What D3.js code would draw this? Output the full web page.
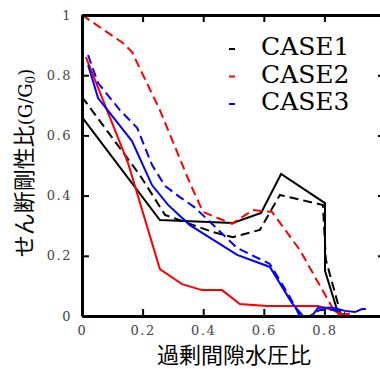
<!DOCTYPE html>
<html><head><meta charset="utf-8">
<script src="https://cdn.jsdelivr.net/npm/d3@7"></script>
<style>body{margin:0;background:#fff;}svg{display:block;}</style>
</head><body>
<svg id="c" width="380" height="369"></svg>
<script>
const xTicks = [0, 0.2, 0.4, 0.6, 0.8, 1.0];
const yTicks = [0, 0.2, 0.4, 0.6, 0.8, 1.0];
const seriesNames = ["CASE1", "CASE2", "CASE3"];
const seriesColors = ["#000000", "#ff0000", "#0000ff"];
const xTitle = "過剰間隙水圧比";
const yTitleJa = "せん断剛性比";

const case1Solid = [[0,0.661],[0.257,0.319],[0.498,0.309],[0.591,0.342],[0.657,0.472],[0.802,0.375],[0.802,0.150],[0.845,0.01]];
const case1Dash = [[0,0.728],[0.191,0.468],[0.274,0.336],[0.356,0.306],[0.432,0.279],[0.498,0.262],[0.587,0.286],[0.653,0.402],[0.795,0.369],[0.805,0.186],[0.855,0.003]];
const case2Solid = [[0.013,0.860],[0.152,0.508],[0.257,0.156],[0.330,0.106],[0.396,0.086],[0.462,0.086],[0.521,0.040],[0.611,0.033],[0.779,0.033],[0.828,0.020],[0.851,0.007],[0.884,0.007]];
const case2Dash = [[0,1.0],[0.135,0.907],[0.165,0.877],[0.257,0.684],[0.356,0.442],[0.399,0.346],[0.495,0.306],[0.564,0.352],[0.627,0.346],[0.719,0.219],[0.825,0.03],[0.851,0.003]];
const case3Solid = [[0.020,0.834],[0.053,0.724],[0.165,0.581],[0.231,0.435],[0.284,0.369],[0.356,0.302],[0.512,0.203],[0.620,0.163],[0.693,0.043],[0.729,0],[0.759,0],[0.779,0.027],[0.828,0.027],[0.868,0.017],[0.901,0.013],[0.924,0.023],[0.937,0.023]];
const case3Dash = [[0.020,0.867],[0.053,0.774],[0.125,0.684],[0.182,0.625],[0.231,0.502],[0.274,0.432],[0.323,0.395],[0.373,0.360],[0.512,0.226],[0.620,0.173],[0.686,0.063],[0.719,0],[0.752,0],[0.785,0.02],[0.835,0.02],[0.868,0.01]];

const lines = [
  {data: case1Solid, c: 0, dash: false},
  {data: case1Dash, c: 0, dash: true},
  {data: case2Solid, c: 1, dash: false},
  {data: case2Dash, c: 1, dash: true},
  {data: case3Solid, c: 2, dash: false},
  {data: case3Dash, c: 2, dash: true}
];

const svg = d3.select("#c");
const L = 82, R = 385, T = 15, B = 316;
const x = d3.scaleLinear().domain([0, 1]).range([L, R]);
const y = d3.scaleLinear().domain([0, 1]).range([B, T]);
const fmt = d => d === 0 ? "0" : d === 1 ? "1" : d.toFixed(1);
const fmtX = d => d === 1 ? "" : fmt(d);

const line = d3.line().x(d => x(d[0])).y(d => y(d[1]));
svg.append("g").selectAll("path").data(lines).join("path")
  .attr("d", d => line(d.data))
  .attr("fill", "none")
  .attr("stroke", d => seriesColors[d.c])
  .attr("stroke-width", 2)
  .attr("stroke-dasharray", d => d.dash ? "9,5" : null);

function styleAxis(g) {
  g.select(".domain").attr("stroke", "#000").attr("stroke-width", 3);
  g.selectAll(".tick line").attr("stroke", "#000").attr("stroke-width", 2);
  g.selectAll(".tick text").attr("font-family", "DejaVu Serif").attr("font-size", 13)
    .attr("fill", "#444").attr("letter-spacing", 1.5);
}

svg.append("g").attr("transform", `translate(${L},0)`)
  .call(d3.axisLeft(y).tickValues(yTicks).tickFormat(fmt).tickSize(-7).tickSizeOuter(0).tickPadding(10))
  .call(styleAxis);
svg.append("g").attr("transform", `translate(${R},0)`)
  .call(d3.axisRight(y).tickValues(yTicks).tickFormat("").tickSize(-7).tickSizeOuter(0))
  .call(styleAxis);
svg.append("g").attr("transform", `translate(0,${B})`)
  .call(d3.axisBottom(x).tickValues(xTicks).tickFormat(fmtX).tickSize(-7).tickSizeOuter(0).tickPadding(10))
  .call(styleAxis);
svg.append("g").attr("transform", `translate(0,${T})`)
  .call(d3.axisTop(x).tickValues(xTicks).tickFormat("").tickSize(-7).tickSizeOuter(0))
  .call(styleAxis);

// legend
const lg = svg.append("g");
seriesNames.forEach((n, i) => {
  const by = 55 + i * 27.5;
  lg.append("line").attr("x1", 229).attr("x2", 235).attr("y1", by - 6).attr("y2", by - 6)
    .attr("stroke", seriesColors[i]).attr("stroke-width", 2);
  lg.append("text").attr("x", 261).attr("y", by).text(n)
    .attr("font-family", "DejaVu Serif").attr("font-size", 25).attr("fill", "#000");
});

// x title
svg.append("text").attr("x", 234).attr("y", 363).attr("text-anchor", "middle")
  .attr("font-family", "Noto Sans CJK JP").attr("font-size", 22).attr("fill", "#000").text(xTitle);

// y title
const yt = svg.append("text").attr("transform", "translate(32,163) rotate(-90)")
  .attr("text-anchor", "middle").attr("fill", "#000");
yt.append("tspan").attr("font-family", "Noto Sans CJK JP").attr("font-size", 22).text(yTitleJa);
yt.append("tspan").attr("font-family", "DejaVu Serif").attr("font-size", 18).text("(G/G");
yt.append("tspan").attr("font-family", "DejaVu Serif").attr("font-size", 12).attr("dy", 3).text("0");
yt.append("tspan").attr("font-family", "DejaVu Serif").attr("font-size", 18).attr("dy", -3).text(")");
</script>
</body></html>
